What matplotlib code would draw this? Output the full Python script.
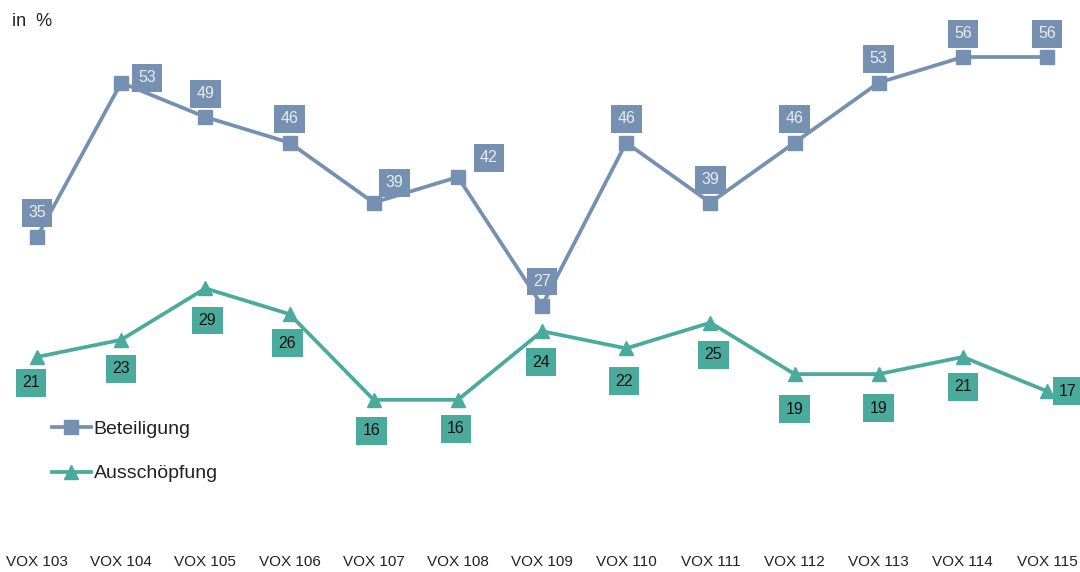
import matplotlib
matplotlib.use("Agg")
import matplotlib.pyplot as plt

categories = ["VOX 103", "VOX 104", "VOX 105", "VOX 106", "VOX 107", "VOX 108", "VOX 109",
              "VOX 110", "VOX 111", "VOX 112", "VOX 113", "VOX 114", "VOX 115"]
beteiligung = [35, 53, 49, 46, 39, 42, 27, 46, 39, 46, 53, 56, 56]
ausschoepfung = [21, 23, 29, 26, 16, 16, 24, 22, 25, 19, 19, 21, 17]

# label offsets in pixels (dx, dy; dy positive = up)
bet_off = [(0, 24), (26, 5), (0, 23), (0, 24), (21, 20), (31, 19), (0, 24),
           (0, 24), (0, 23), (0, 24), (0, 24), (0, 23), (0, 23)]
aus_off = [(-6, -26), (0, -29), (2, -32), (-2, -29), (-2, -31), (-2, -29), (-1, -31),
           (-2, -33), (3, -32), (0, -35), (0, -34), (0, -30), (21, 0)]

blue = "#7690b2"
teal = "#4aab9d"

plt.rcParams['font.family'] = ['Liberation Sans', 'DejaVu Sans']

fig = plt.figure(figsize=(10.8, 5.72), dpi=100)
px_per_unit = 8.57
ax = fig.add_axes([0, (572 - 545) / 572, 1, 545 / 572])
x = list(range(len(categories)))
step = 84.17
ax.set_xlim(-37 / step, (1080 - 37) / step)
ax.set_ylim(56 - (545 - 57) / px_per_unit, 56 + 57 / px_per_unit)

ax.plot(x, beteiligung, color=blue, lw=2.7, marker='s', ms=9.5, label="Beteiligung", zorder=3)
ax.plot(x, ausschoepfung, color=teal, lw=2.7, marker='^', ms=10.5, label="Ausschöpfung", zorder=3)

box_kw = dict(boxstyle='square,pad=0.4', ec='none')
for i, v in enumerate(beteiligung):
    dx, dy = bet_off[i]
    ax.annotate(str(v), (i, v), xytext=(dx * 0.72, dy * 0.72), textcoords='offset points',
                ha='center', va='center', fontsize=11.5, color='#e8edf4', zorder=4,
                bbox=dict(fc=blue, **box_kw))
for i, v in enumerate(ausschoepfung):
    dx, dy = aus_off[i]
    ax.annotate(str(v), (i, v), xytext=(dx * 0.72, dy * 0.72), textcoords='offset points',
                ha='center', va='center', fontsize=11.5, color='#111111', zorder=4,
                bbox=dict(fc=teal, **box_kw))

ax.set_xticks(x)
ax.set_xticklabels(categories, fontsize=11, color='#222222')
ax.tick_params(axis='x', length=0, pad=7)
ax.set_yticks([])
for s in ax.spines.values():
    s.set_visible(False)

fig.text(12 / 1080, 1 - 22 / 572, "in  %", fontsize=13, color='#222222', va='center', ha='left')

leg = ax.legend(loc='upper left', bbox_to_anchor=(52 / 1080, 1 - 420 / 545),
                frameon=False, fontsize=14, handlelength=2.0, labelspacing=1.4,
                handletextpad=0.15, borderpad=0, borderaxespad=0)
for t in leg.get_texts():
    t.set_color('#222222')

fig.savefig("out.png", dpi=100)
